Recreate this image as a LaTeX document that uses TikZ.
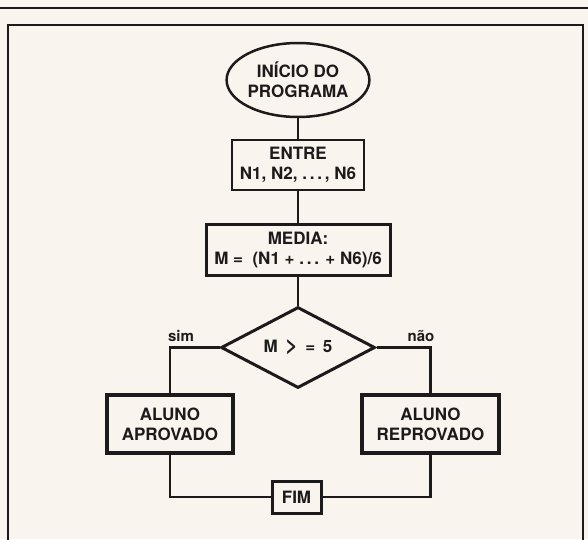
\documentclass[tikz,border=0pt]{standalone}
\usepackage{fontspec}
\setmainfont{TeX Gyre Heros}
\usetikzlibrary{shapes.geometric}
\definecolor{paper}{RGB}{250,244,239}
\definecolor{ink}{RGB}{28,26,26}
\begin{document}
\begin{tikzpicture}[x=1pt,y=-1pt,
  txt/.style={font=\fontsize{17}{20}\selectfont\bfseries, text=ink, align=center, inner sep=0pt},
  box/.style={txt, draw=ink, rectangle},
  conn/.style={draw=ink, line width=2.2pt},
  lbl/.style={font=\fontsize{15}{17}\selectfont\bfseries, text=ink, inner sep=0pt}]
\fill[paper] (0,0) rectangle (588,539);
\useasboundingbox (0,0) rectangle (588,539);
% page rule and frame
\draw[ink, line width=1.5pt] (0,8) -- (588,8);
\draw[ink, line width=2pt] (7.5,545) -- (7.5,25) -- (583,25) -- (583,545);
% nodes
\node[txt, draw=ink, ellipse, line width=2.5pt, minimum width=124pt, minimum height=74pt, inner sep=0pt] (start) at (298,80) {INÍCIO DO\\PROGRAMA};
\node[box, line width=2pt, minimum width=132pt, minimum height=50pt] (entre) at (298,165) {ENTRE\\N1, N2, .\,.\,.\,, N6};
\node[box, line width=3pt, minimum width=184pt, minimum height=51pt] (media) at (298,249.5) {MEDIA:\\M =\ \ (N1 + .\,.\,. + N6)/6};
\node[txt, draw=ink, diamond, line width=3pt, minimum width=154pt, minimum height=81pt, aspect=1.9] (dec) at (298,347.5) {M \,\raisebox{-0.5pt}{\scalebox{1.25}{>}}\, = \,5};
\node[box, line width=3.5pt, minimum width=126pt, minimum height=58pt] (apr) at (170,424) {ALUNO\\APROVADO};
\node[box, line width=3.5pt, minimum width=137pt, minimum height=58pt] (rep) at (430.5,424) {ALUNO\\REPROVADO};
\node[box, line width=3pt, minimum width=49pt, minimum height=32pt] (fim) at (296.5,497) {FIM};
\node[lbl, anchor=base] (sim) at (181,341) {sim};
\node[lbl, anchor=base] (nao) at (421,341) {não};
% connectors
\draw[conn] (start.south) -- (entre.north);
\draw[conn] (entre.south) -- (media.north);
\draw[conn] (media.south) -- (dec.north);
\draw[conn] (dec.west) -| (apr.north);
\draw[conn] (dec.east) -| (rep.north);
\draw[conn] (apr.south) |- (fim.west);
\draw[conn] (rep.south) |- (fim.east);
\end{tikzpicture}
\end{document}
